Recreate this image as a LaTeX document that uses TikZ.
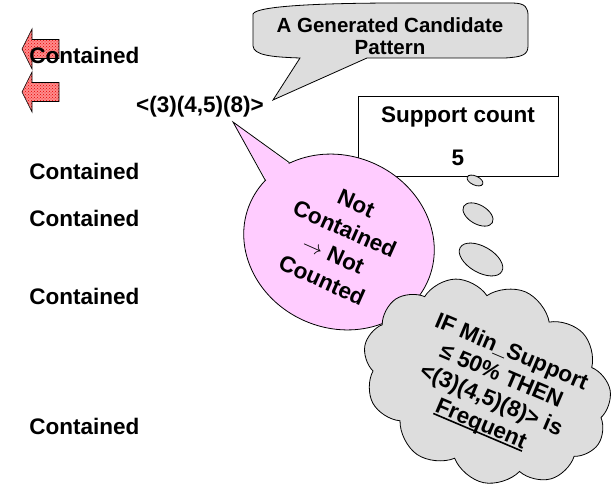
\documentclass[tikz,border=0pt]{standalone}
\usepackage{fontspec}
\setmainfont{Liberation Sans}
\usetikzlibrary{shapes.geometric,shapes.symbols,patterns,calc}
\definecolor{pinkfill}{HTML}{FFCCFF}
\definecolor{bubblegray}{HTML}{DDDDDD}
\newcommand\thickul[1]{\setbox0\hbox{#1}\rlap{\rule[-3pt]{\wd0}{1.6pt}}\box0}
\begin{document}
\begin{tikzpicture}[x=1pt, y=-1pt, line width=0.8pt,
    every node/.style={font=\fontsize{22.5}{28}\selectfont\bfseries, inner sep=0pt},
    seqtext/.style={anchor=base west},
    blockarrow/.style={draw, line width=0.6pt, preaction={fill=red!45},
        pattern=crosshatch dots, pattern color=red!90!black},
    bubble/.style={draw, ellipse, fill=bubblegray}
    ]
    \useasboundingbox (0,0) rectangle (613,492);

    % Arrows on the left
    \foreach \y in {49,92}
        \draw[blockarrow] (22,\y) -- (32,\y-20) -- (32,\y-9.5) -- (59,\y-9.5)
            -- (59,\y+9.5) -- (32,\y+9.5) -- (32,\y+20) -- cycle;

    % Sequence rows
    \foreach \y [count=\i] in {64,179,226,304,434}
        \node[seqtext] (row\i) at (29,\y) {Contained};

    % Candidate pattern
    \node[anchor=base] (patt) at (200,113) {<(3)(4,5)(8)>};
    \coordinate (genTip) at (273,100);
    \coordinate (pinkTip) at (233,122);

    % Grey callout
    \draw[fill=bubblegray] (253,14) .. controls (256,6) and (320,3) .. (400,3)
        -- (512,3) .. controls (526,3) and (528,8) .. (528,16) -- (528,46)
        .. controls (528,55) and (522,57) .. (505,58) -- (367,58) -- (genTip)
        -- (300,58) .. controls (270,57) and (254,55) .. (253,46) -- cycle;
    \node[align=center, font=\fontsize{20.5}{22.5}\selectfont\bfseries] (gen) at (390,36)
        {A Generated Candidate\\Pattern};

    % Support count box
    \node[draw, fill=white, minimum width=200, minimum height=80, align=center] (supp)
        at (458,136) {Support count\\[15pt]5};

    % Thought bubbles
    \node[bubble, minimum width=17, minimum height=9, rotate=-25] (b1) at (475,180.5) {};
    \node[bubble, minimum width=33, minimum height=19, rotate=-30] (b2) at (478,214.5) {};
    \node[bubble, minimum width=48, minimum height=26, rotate=-30] (b3) at (481,259.5) {};

    % Pink callout
    \node[draw, ellipse, fill=pinkfill, minimum width=194, minimum height=172,
        rotate=-24, align=center] (pink) at (339,242)
        {Not\\Contained\\$\rightarrow$ Not\\Counted};
    \fill[pinkfill] (pinkTip) -- ($(pink.146)!3pt!(pink.center)$)
        -- ($(pink.164)!3pt!(pink.center)$) -- cycle;
    \draw (pink.146) -- (pinkTip) -- (pink.164);

    % Cloud
    \node[draw, cloud, cloud puffs=11, cloud puff arc=115, fill=bubblegray,
        minimum width=256, minimum height=196, rotate=-23] (cloud) at (487,382) {};
    \node[align=center, rotate=-23, font=\fontsize{22.5}{26}\selectfont\bfseries] (rule)
        at (496,389) {IF Min\_Support\\≤ 50\% THEN\\<(3)(4,5)(8)> is\\\thickul{Frequent}};

\end{tikzpicture}
\end{document}
